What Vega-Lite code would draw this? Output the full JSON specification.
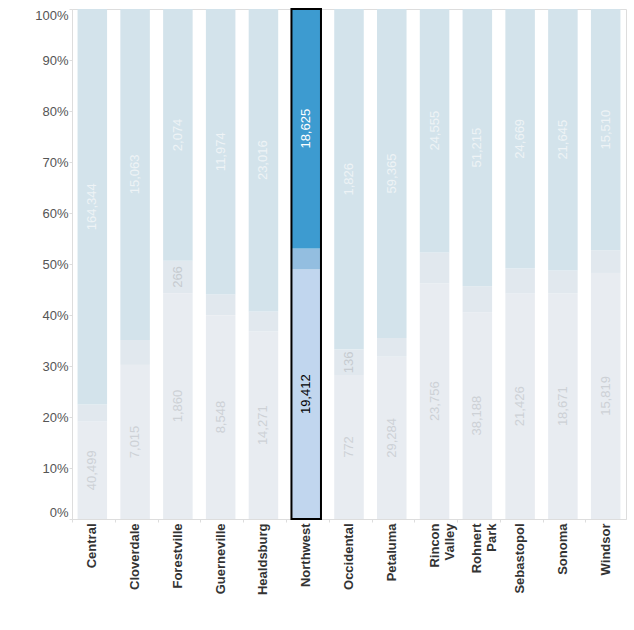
{
  "$schema": "https://vega.github.io/schema/vega-lite/v6.json",
  "width": 554,
  "height": 510,
  "autosize": {"type": "none"},
  "padding": {"left": 72, "top": 9, "right": 8, "bottom": 111},
  "background": "white",
  "config": {
    "view": {"stroke": "#dddddd", "strokeWidth": 1},
    "font": "Liberation Sans"
  },
  "data": {
    "values": [
      {"region": "Central", "segment": "bottom", "value": 40499},
      {"region": "Central", "segment": "middle", "value": 7079},
      {"region": "Central", "segment": "top", "value": 164344},
      {"region": "Cloverdale", "segment": "bottom", "value": 7015},
      {"region": "Cloverdale", "segment": "middle", "value": 1138},
      {"region": "Cloverdale", "segment": "top", "value": 15063},
      {"region": "Forestville", "segment": "bottom", "value": 1860},
      {"region": "Forestville", "segment": "middle", "value": 266},
      {"region": "Forestville", "segment": "top", "value": 2074},
      {"region": "Guerneville", "segment": "bottom", "value": 8548},
      {"region": "Guerneville", "segment": "middle", "value": 868},
      {"region": "Guerneville", "segment": "top", "value": 11974},
      {"region": "Healdsburg", "segment": "bottom", "value": 14271},
      {"region": "Healdsburg", "segment": "middle", "value": 1522},
      {"region": "Healdsburg", "segment": "top", "value": 23016},
      {"region": "Northwest", "segment": "bottom", "value": 19412},
      {"region": "Northwest", "segment": "middle", "value": 1635},
      {"region": "Northwest", "segment": "top", "value": 18625},
      {"region": "Occidental", "segment": "bottom", "value": 772},
      {"region": "Occidental", "segment": "middle", "value": 136},
      {"region": "Occidental", "segment": "top", "value": 1826},
      {"region": "Petaluma", "segment": "bottom", "value": 29284},
      {"region": "Petaluma", "segment": "middle", "value": 3368},
      {"region": "Petaluma", "segment": "top", "value": 59365},
      {"region": "Rincon Valley", "segment": "bottom", "value": 23756},
      {"region": "Rincon Valley", "segment": "middle", "value": 3127},
      {"region": "Rincon Valley", "segment": "top", "value": 24555},
      {"region": "Rohnert Park", "segment": "bottom", "value": 38188},
      {"region": "Rohnert Park", "segment": "middle", "value": 4805},
      {"region": "Rohnert Park", "segment": "top", "value": 51215},
      {"region": "Sebastopol", "segment": "bottom", "value": 21426},
      {"region": "Sebastopol", "segment": "middle", "value": 2375},
      {"region": "Sebastopol", "segment": "top", "value": 24669},
      {"region": "Sonoma", "segment": "bottom", "value": 18671},
      {"region": "Sonoma", "segment": "middle", "value": 1904},
      {"region": "Sonoma", "segment": "top", "value": 21645},
      {"region": "Windsor", "segment": "bottom", "value": 15819},
      {"region": "Windsor", "segment": "middle", "value": 1459},
      {"region": "Windsor", "segment": "top", "value": 15510}
    ]
  },
  "transform": [
    {"stack": "value", "groupby": ["region"], "sort": [{"field": "segment", "order": "ascending"}], "offset": "normalize", "as": ["y0", "y1"]}
  ],
  "encoding": {
    "x": {
      "field": "region",
      "type": "nominal",
      "sort": null,
      "scale": {"paddingInner": 0.31, "paddingOuter": 0.13},
      "axis": {
        "title": null,
        "labelAngle": -90,
        "labelAlign": "right",
        "labelBaseline": "middle",
        "labelExpr": "split(datum.label, ' ')",
        "labelLineHeight": 15,
        "labelFont": "Liberation Sans",
        "labelFontSize": 13,
        "labelFontWeight": "bold",
        "labelColor": "#333333",
        "labelPadding": 1,
        "domainColor": "#dddddd",
        "tickColor": "#dddddd",
        "tickSize": 3,
        "bandPosition": -0.17,
        "grid": false
      }
    }
  },
  "layer": [
    {
      "mark": {"type": "bar"},
      "encoding": {
        "y": {
          "field": "y1",
          "type": "quantitative",
          "scale": {"domain": [0, 1]},
          "axis": {
            "title": null,
            "format": "%",
            "values": [0, 0.1, 0.2, 0.3, 0.4, 0.5, 0.6, 0.7, 0.8, 0.9, 1],
            "labelFlush": true,
            "labelFont": "Liberation Sans",
            "labelFontSize": 13,
            "labelColor": "#555555",
            "labelPadding": 1,
            "tickSize": 3,
            "tickColor": "#dddddd",
            "domainColor": "#dddddd",
            "grid": false
          }
        },
        "y2": {"field": "y0"},
        "color": {
          "field": "segment",
          "type": "nominal",
          "legend": null,
          "scale": {"domain": ["bottom", "middle", "top"], "range": ["#e8ecf1", "#e1e8ee", "#d3e3eb"]},
          "condition": [
            {"test": "datum.region === 'Northwest' && datum.segment === 'top'", "value": "#3d9bd0"},
            {"test": "datum.region === 'Northwest' && datum.segment === 'middle'", "value": "#93bee0"},
            {"test": "datum.region === 'Northwest' && datum.segment === 'bottom'", "value": "#c1d6ee"}
          ]
        }
      }
    },
    {
      "transform": [{"calculate": "(datum.y0 + datum.y1) / 2", "as": "ymid"}],
      "mark": {"type": "text", "angle": 270, "align": "center", "baseline": "middle", "fontSize": 13, "font": "Liberation Sans"},
      "encoding": {
        "y": {"field": "ymid", "type": "quantitative"},
        "text": {"field": "value", "type": "quantitative", "format": ","},
        "opacity": {
          "condition": {"test": "datum.segment === 'middle' && datum.region !== 'Forestville' && datum.region !== 'Occidental'", "value": 0},
          "value": 1
        },
        "color": {
          "condition": [
            {"test": "datum.region === 'Northwest' && datum.segment === 'top'", "value": "#ffffff"},
            {"test": "datum.region === 'Northwest'", "value": "#000000"},
            {"test": "datum.segment === 'top'", "value": "#eef3f6"},
            {"test": "datum.segment === 'middle'", "value": "#c6cbd0"}
          ],
          "value": "#cdd1d6"
        }
      }
    },
    {
      "transform": [
        {"filter": "datum.region === 'Northwest'"},
        {"aggregate": [{"op": "min", "field": "y0", "as": "lo"}, {"op": "max", "field": "y1", "as": "hi"}], "groupby": ["region"]}
      ],
      "mark": {"type": "bar", "fill": null, "fillOpacity": 0, "stroke": "#000000", "strokeWidth": 2},
      "encoding": {
        "y": {"field": "hi", "type": "quantitative"},
        "y2": {"field": "lo"}
      }
    }
  ]
}
